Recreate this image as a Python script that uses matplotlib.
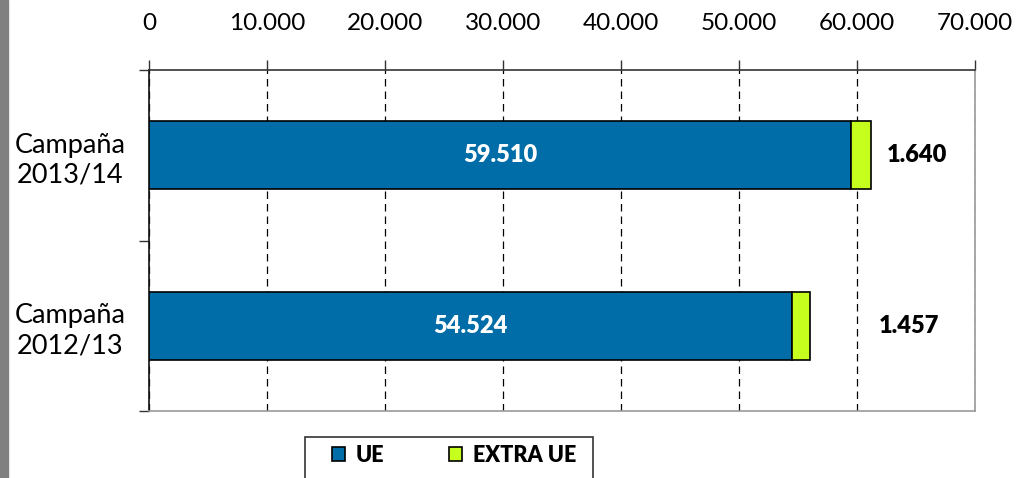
import matplotlib
matplotlib.use("Agg")
import matplotlib.pyplot as plt
from matplotlib.patches import Rectangle, Patch

categories = ["Campaña\n2012/13", "Campaña\n2013/14"]
ue = [54524, 59510]
extra_ue = [1457, 1640]
ue_labels = ["54.524", "59.510"]
extra_labels = ["1.457", "1.640"]
xticks = [0, 10000, 20000, 30000, 40000, 50000, 60000, 70000]
xtick_labels = ["0", "10.000", "20.000", "30.000", "40.000", "50.000", "60.000", "70.000"]

c_ue = "#006DA8"
c_extra = "#C6FF1E"
font = ["Lato", "DejaVu Sans"]
plt.rcParams['font.family'] = font

W, H = 1017, 478
fig = plt.figure(figsize=(W/100, H/100), dpi=100)
ax = fig.add_axes([149/W, 1-411/H, (975-149)/W, (411-70)/H])

y = list(range(len(categories)))
ax.barh(y, ue, height=0.4, color=c_ue, edgecolor="black", linewidth=1.2, zorder=3, label="UE")
ax.barh(y, extra_ue, left=ue, height=0.4, color=c_extra, edgecolor="black", linewidth=1.2, zorder=3, label="EXTRA UE")

ax.set_xlim(0, 70000)
ax.set_ylim(-0.5, 1.5)

for i in y:
    ax.text(ue[i]/2, i, ue_labels[i], ha="center", va="center", color="white",
            fontsize=17, fontweight="heavy", zorder=4)
# labels for extra series placed at right of the bars
extra_x = [64400, 65100]
for i in y:
    ax.text(extra_x[i], i, extra_labels[i], ha="center", va="center", color="black",
            fontsize=17, fontweight="heavy", zorder=4)

ax.xaxis.tick_top()
ax.set_xticks(xticks)
ax.set_xticklabels(xtick_labels, fontsize=17.5)
ax.tick_params(axis="x", which="major", length=7, width=1, color="#333333", pad=19, direction="out")
ax.grid(axis="x", color="black", linestyle=(0, (6, 4)), linewidth=0.9, zorder=1)

ax.set_yticks([-0.5, 0.5, 1.5])
ax.set_yticklabels([])
ax.set_yticks(y, minor=True)
ax.set_yticklabels(categories, minor=True, fontsize=19.5, ha="center", linespacing=1.25)
ax.tick_params(axis="y", which="minor", length=0, pad=57)
ax.tick_params(axis="y", which="major", length=7, width=1, color="#333333")

ax.spines["top"].set_color("#333333")
ax.spines["left"].set_color("#111111")
ax.spines["right"].set_color("#999999")
ax.spines["bottom"].set_color("#999999")
for s in ax.spines.values():
    s.set_linewidth(1.2)

# left gray strip
fig.patches.append(Rectangle((0, 0), 8/W, 1, transform=fig.transFigure, color="#808080", zorder=0))

# legend box
fig.patches.append(Rectangle((305/W, -0.05), (593-305)/W, (1-437/H)+0.05, transform=fig.transFigure,
                             facecolor="white", edgecolor="#333333", linewidth=1.2, zorder=1))
handles = [Patch(facecolor=c_ue, edgecolor="black", linewidth=1.2, label="UE"),
           Patch(facecolor=c_extra, edgecolor="black", linewidth=1.2, label="EXTRA UE")]
leg = fig.legend(handles=handles, loc="center", bbox_to_anchor=(454/W, 1-455/H), ncol=2,
                 frameon=False, prop={"weight": "heavy", "size": 15.5}, handlelength=0.6,
                 handleheight=0.6, handletextpad=0.5, columnspacing=3.0)

fig.savefig("out.png", dpi=100)
